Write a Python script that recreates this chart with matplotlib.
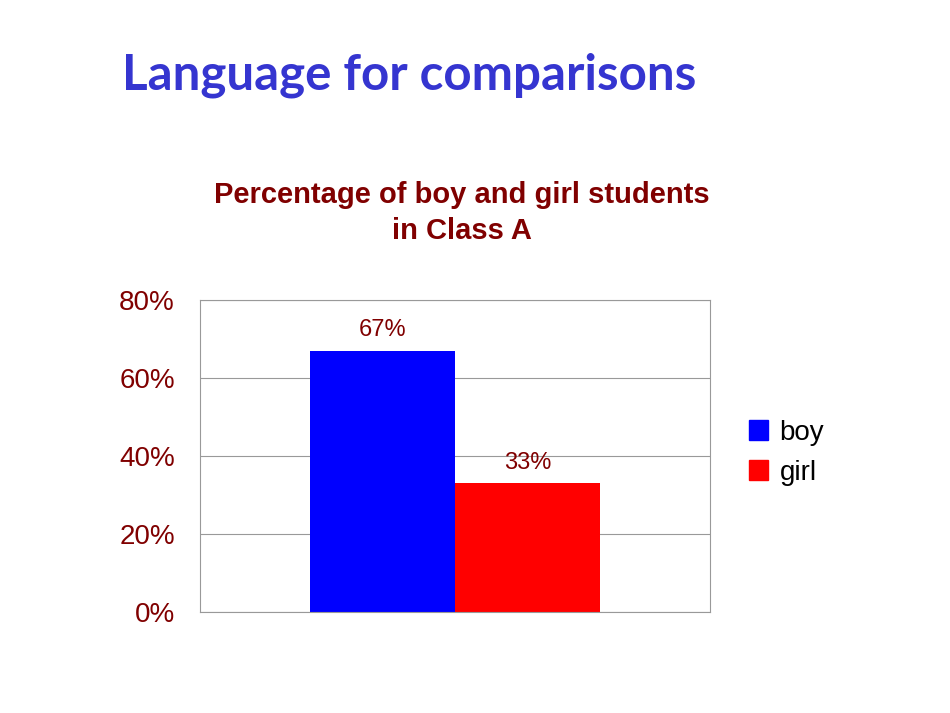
import matplotlib
matplotlib.use("Agg")
import matplotlib.pyplot as plt
from matplotlib.patches import Patch

categories = ["boy", "girl"]
values = [67, 33]
colors = ["#0000FF", "#FF0000"]
yticks = [0, 20, 40, 60, 80]
ytick_labels = ["0%", "20%", "40%", "60%", "80%"]

dark = "#800000"
fig = plt.figure(figsize=(9.5, 7.13), dpi=100)
fig.text(0.128, 0.895, "Language for comparisons", fontsize=35.5, fontweight="bold",
         color="#3535D0", family=["Lato", "DejaVu Sans"], va="center", ha="left")
fig.text(0.486, 0.701, "Percentage of boy and girl students\nin Class A", fontsize=21,
         fontweight="bold", color=dark, family=["Liberation Sans"], ha="center", va="center",
         linespacing=1.35)

ax = fig.add_axes([200/950, 101/713, 510/950, 312/713])
for i, (c, v, col) in enumerate(zip(categories, values, colors)):
    ax.bar(i, v, width=1.0, color=col, label=c, zorder=2)
    ax.text(i, v + 2.5, f"{v}%", ha="center", va="bottom", fontsize=17,
            color=dark, family="Liberation Sans")
ax.set_xlim(-1.259, 2.259)
ax.set_ylim(0, 80)
ax.set_yticks(yticks)
ax.set_yticklabels(ytick_labels, fontsize=20, color=dark, family="Liberation Sans")
ax.tick_params(axis="y", length=0, pad=18)
ax.set_xticks([])
ax.yaxis.grid(True, color="#999999", linewidth=0.8, zorder=0)
for s in ax.spines.values():
    s.set_color("#999999")
    s.set_linewidth(0.8)

handles = [Patch(color=col, label=c) for c, col in zip(categories, colors)]
fig.legend(handles=handles, loc="center left", bbox_to_anchor=(0.762, 0.365),
           frameon=False, handlelength=0.7, handleheight=0.7,
           handletextpad=0.4, labelspacing=0.5, prop={"family": "Liberation Sans", "size": 20})
fig.savefig("out.png", dpi=100, facecolor="white")
